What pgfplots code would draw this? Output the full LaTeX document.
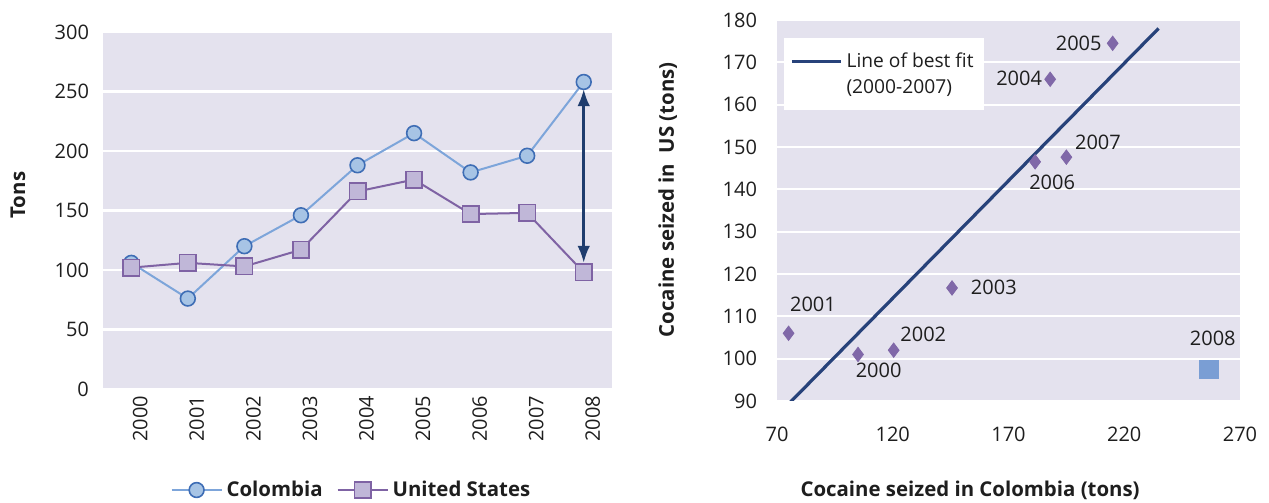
\documentclass[border=0pt]{standalone}
\usepackage{fontspec}
\setmainfont{Open Sans}
\usepackage{pgfplots}
\usepackage{pgfplotstable}
\pgfplotsset{compat=1.18}
\usetikzlibrary{arrows.meta}

\definecolor{bg}{RGB}{228,226,238}
\definecolor{txt}{RGB}{30,30,30}
\definecolor{colline}{RGB}{125,165,218}
\definecolor{colfill}{RGB}{167,196,229}
\definecolor{coldraw}{RGB}{62,109,181}
\definecolor{usline}{RGB}{127,99,164}
\definecolor{usfill}{RGB}{192,183,216}
\definecolor{arrowc}{RGB}{31,61,110}
\definecolor{diam}{RGB}{128,104,168}
\definecolor{sq}{RGB}{122,158,212}
\definecolor{best}{RGB}{39,66,122}

\pgfplotstableread{
x   y     lab   dx    dy
105 101   2000  10.3  -8
75  106   2001  12.2  14.5
120.4 102 2002  14.8  8
145.6 116.7 2003 20.9 0.5
188 166   2004  -15.5 0.5
215 174.5 2005  -17.0 0
181.5 146.5 2006 8.5 -10.5
195 147.6 2007  15.8  7.5
}\scatterdata

\pgfplotsset{
  mystyle/.style={
    scale only axis,
    axis line style={draw=none},
    major tick length=0pt,
    ymajorgrids,
    grid style={white, line width=1.1pt},
    axis background/.style={fill=bg},
    tick label style={font=\fontsize{10}{12}\selectfont, text=txt},
    /pgf/number format/assume math mode=true,
    label style={font=\fontsize{10.2}{12}\selectfont\bfseries, text=txt},
  }
}

\begin{document}
\begin{tikzpicture}
\useasboundingbox (0pt,0pt) rectangle (634.5pt,251.5pt);

% ---------------- Left panel ----------------
\begin{axis}[mystyle,
  at={(51.5pt,57pt)}, anchor=south west,
  width=254.5pt, height=178.5pt,
  xmin=-0.5, xmax=8.5, ymin=0, ymax=300,
  xtick={0,1,2,3,4,5,6,7,8},
  xticklabels={2000,2001,2002,2003,2004,2005,2006,2007,2008},
  ytick={0,50,100,150,200,250,300},
  yticklabel style={xshift=-3.5pt},
  xticklabel style={rotate=90, anchor=east, yshift=-4.5pt},
  ylabel={Tons},
  ylabel style={at={(axis description cs:-0.167,0.543)}, anchor=center, rotate=0},
  legend columns=2,
  legend style={at={(0.49,-0.283)}, anchor=center, draw=none, fill=none,
    font=\fontsize{10.2}{12}\selectfont\bfseries, text=txt,
    /tikz/every even column/.append style={column sep=5pt},
    inner sep=0pt},
  legend image code/.code={\draw[mark repeat=2,mark phase=2,#1] plot coordinates {(0pt,0pt)(12.5pt,0pt)(25pt,0pt)};},
]
\addplot[arrowc, line width=1.3pt, {Latex[length=8.5pt,width=6.3pt]}-{Latex[length=8.5pt,width=6.3pt]}, forget plot]
  coordinates {(8,252) (8,106)};
\addplot[colline, line width=1pt, mark=*, mark size=3.7pt,
  mark options={fill=colfill, draw=coldraw, line width=0.8pt}]
  coordinates {(0,106) (1,76) (2,120) (3,146) (4,188) (5,215) (6,182) (7,196) (8,258)};
\addlegendentry{Colombia}
\addplot[usline, line width=1pt, mark=square*, mark size=4.1pt,
  mark options={fill=usfill, draw=usline, line width=0.8pt}]
  coordinates {(0,102) (1,106) (2,103) (3,117) (4,166) (5,176) (6,147) (7,148) (8,98)};
\addlegendentry{United States}
\end{axis}

% ---------------- Right panel ----------------
\begin{axis}[mystyle,
  at={(388.5pt,51pt)}, anchor=south west,
  width=231.5pt, height=190.5pt,
  xmin=70, xmax=270, ymin=90, ymax=180,
  xtick={70,120,170,220,270},
  ytick={90,100,110,120,130,140,150,160,170,180},
  yticklabel style={xshift=-6.5pt},
  xticklabel style={yshift=-9.7pt},
  xlabel={Cocaine seized in Colombia (tons)},
  xlabel style={at={(axis description cs:0.417,-0.234)}, anchor=center},
  ylabel={Cocaine seized in\ \ US (tons)},
  ylabel style={at={(axis description cs:-0.236,0.528)}, anchor=center, rotate=0},
  legend style={at={(0.015,0.953)}, anchor=north west, draw=none, fill=white,
    font=\fontsize{9.6}{13}\selectfont, text=txt,
    cells={align=left}, inner xsep=3pt, inner ysep=5pt},
  legend image code/.code={\draw[#1] (0pt,6.3pt) -- (24.5pt,6.3pt);},
]
\addplot[best, line width=1.6pt] coordinates {(75,89.3) (234.8,178)};
\addlegendentry{Line of best fit\\(2000-2007)}
\addplot[only marks, mark=diamond*, mark size=3.6pt, diam, forget plot,
  point meta=explicit symbolic,
  visualization depends on={\thisrow{dx}\as\mydx},
  visualization depends on={\thisrow{dy}\as\mydy},
  nodes near coords,
  every node near coord/.append style={anchor=center, xshift=\mydx, yshift=\mydy,
    text=txt, font=\fontsize{10}{12}\selectfont}]
  table[x=x, y=y, meta=lab] {\scatterdata};
\addplot[only marks, mark=square*, mark size=4.6pt, sq, forget plot,
  nodes near coords={2008},
  every node near coord/.append style={anchor=center, xshift=2pt, yshift=15.5pt,
    text=txt, font=\fontsize{10}{12}\selectfont}]
  coordinates {(256.5,97.5)};
\end{axis}
\end{tikzpicture}
\end{document}
